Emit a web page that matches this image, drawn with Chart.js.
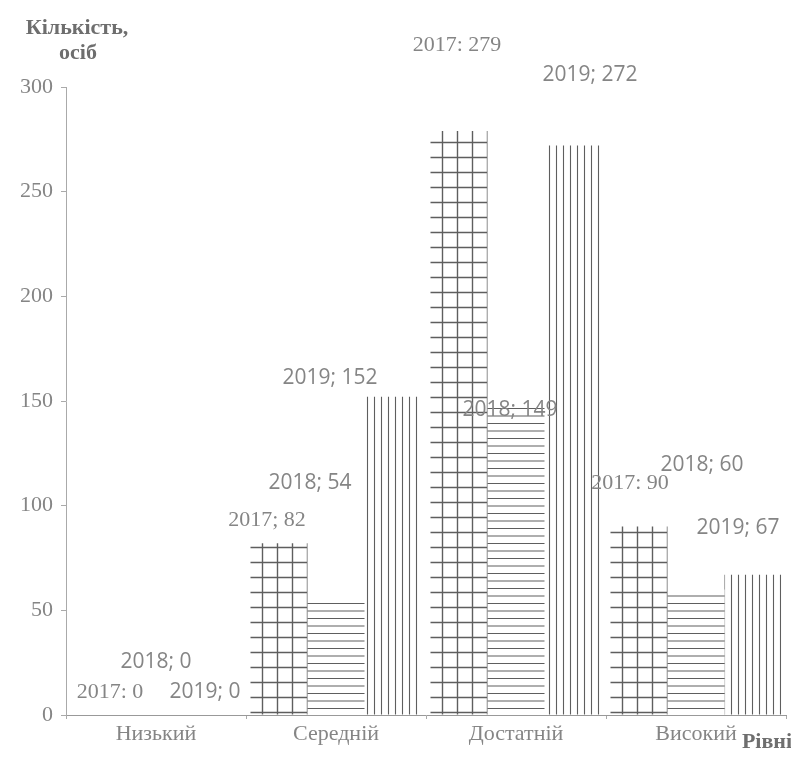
<!DOCTYPE html>
<html>
<head>
<meta charset="utf-8">
<script src="https://cdn.jsdelivr.net/npm/chart.js@4"></script>
<style>
  body { margin: 0; background: #fff; }
  #wrap { width: 791px; height: 760px; position: relative; }
</style>
</head>
<body>
<div id="wrap"><canvas id="chart"></canvas></div>
<script>
// рівні та роки
const levels = ['Низький', 'Середній', 'Достатній', 'Високий'];
const years = ['2017', '2018', '2019'];

// кількість осіб за роками
const values2017 = [0, 82, 279, 90];
const values2018 = [0, 54, 149, 60];
const values2019 = [0, 152, 272, 67];

const yTicks = [0, 50, 100, 150, 200, 250, 300];

// роздільники в підписах (на скані для 2017 подекуди двокрапка)
const labelSep = {
    '2017': [':', ';', ':', ':'],
    '2018': [';', ';', ';', ';'],
    '2019': [';', ';', ';', ';']
};

// зсуви підписів відносно верху стовпця (px), як на скані
const labelShift = {
    '2017': [[11, -23], [-12, -23], [-2, -86], [-9, -43]],
    '2018': [[0, -53], [-26, -119], [-6, 7], [6, -124]],
    '2019': [[-8, -23], [-63, -19], [17, -71], [-15, -47]]
};

const ink = '#5e5e5e';
const textGrey = '#858585';

// візерунки заливки
function makePattern(w, h, draw) {
    const c = document.createElement('canvas');
    c.width = w; c.height = h;
    const g = c.getContext('2d');
    g.fillStyle = '#fff';
    g.fillRect(0, 0, w, h);
    g.strokeStyle = ink;
    draw(g);
    return document.getElementById('chart').getContext('2d').createPattern(c, 'repeat');
}

const gridFill = makePattern(15, 15, g => {   // 2017: клітинка
    g.lineWidth = 1.4;
    g.beginPath();
    g.moveTo(7.5, 0); g.lineTo(7.5, 15);
    g.moveTo(0, 7.5); g.lineTo(15, 7.5);
    g.stroke();
});
const hLineFill = makePattern(15, 15, g => {  // 2018: горизонтальні лінії
    g.lineWidth = 1.1;
    g.beginPath();
    g.moveTo(0, 3.5); g.lineTo(15, 3.5);
    g.moveTo(0, 11); g.lineTo(15, 11);
    g.stroke();
});
const vLineFill = makePattern(7, 7, g => {    // 2019: вертикальні лінії
    g.lineWidth = 1.1;
    g.beginPath();
    g.moveTo(3.5, 0); g.lineTo(3.5, 7);
    g.stroke();
});

// підписи даних та назви осей
const textPlugin = {
    id: 'textPlugin',
    afterDatasetsDraw(chart) {
        const ctx = chart.ctx;
        ctx.save();
        ctx.fillStyle = textGrey;
        ctx.textAlign = 'center';
        ctx.textBaseline = 'middle';
        chart.data.datasets.forEach((ds, i) => {
            const meta = chart.getDatasetMeta(i);
            ctx.font = ds.label === '2017'
                ? '22px "Liberation Serif", serif'
                : '21px "Open Sans", sans-serif';
            meta.data.forEach((bar, j) => {
                const s = labelShift[ds.label][j];
                const txt = ds.label + labelSep[ds.label][j] + ' ' + ds.data[j];
                ctx.fillText(txt, bar.x + s[0], bar.y + s[1]);
            });
        });
        ctx.fillStyle = '#6e6e6e';
        ctx.font = 'bold 22px "Liberation Serif", serif';
        ctx.fillText('Кількість,', 77, 28);
        ctx.fillText('осіб', 78, 53);
        ctx.fillText('Рівні', 767, 742);
        ctx.restore();
    }
};

new Chart(document.getElementById('chart'), {
    type: 'bar',
    data: {
        labels: levels,
        datasets: [
            { label: years[0], data: values2017, backgroundColor: gridFill },
            { label: years[1], data: values2018, backgroundColor: hLineFill },
            { label: years[2], data: values2019, backgroundColor: vLineFill }
        ]
    },
    options: {
        responsive: true,
        maintainAspectRatio: false,
        animation: false,
        layout: { padding: { top: 87, right: 5, left: 0, bottom: 0 } },
        categoryPercentage: 0.95,
        barPercentage: 1.0,
        plugins: {
            legend: { display: false },
            tooltip: { enabled: false }
        },
        scales: {
            x: {
                grid: { display: true, drawOnChartArea: false, tickLength: 4, color: '#aaa' },
                border: { color: '#999', width: 1 },
                ticks: {
                    color: textGrey,
                    font: { family: '"Liberation Serif", serif', size: 22 },
                    padding: 2
                },
                afterFit: s => { s.height = 45; }
            },
            y: {
                min: 0,
                max: 300,
                afterBuildTicks: s => { s.ticks = yTicks.map(v => ({ value: v })); },
                grid: { display: true, drawOnChartArea: false, tickLength: 5, color: '#aaa' },
                border: { color: '#aaa', width: 1 },
                ticks: {
                    color: textGrey,
                    font: { family: '"Liberation Serif", serif', size: 22 },
                    padding: 8
                },
                afterFit: s => { s.width = 66; }
            }
        }
    },
    plugins: [textPlugin]
});
</script>
</body>
</html>
